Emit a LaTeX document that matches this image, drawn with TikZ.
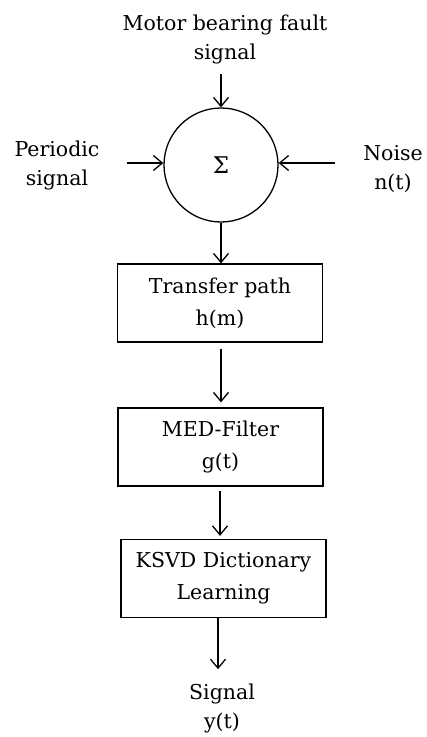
\documentclass[tikz,border=0pt]{standalone}
\usepackage{fontspec}
\setmainfont{DejaVu Serif}
\usetikzlibrary{arrows.meta}
\begin{document}
\begin{tikzpicture}[x=1pt,y=-1pt,
  lbl/.style={align=center,inner sep=0pt,font=\fontsize{20.5}{29}\selectfont},
  blk/.style={draw,line width=1.3pt,minimum width=205pt,minimum height=78pt,align=center,inner sep=0pt,font=\fontsize{20.5}{32}\selectfont},
  conn/.style={line width=1.3pt,-{Straight Barb[length=9pt,width=15pt,line width=1.3pt]}}]
\useasboundingbox (0,0) rectangle (427,737);
\node[lbl] (motor) at (225,39) {Motor bearing fault\\signal};
\node[draw,circle,line width=1.3pt,minimum size=114pt,inner sep=0pt,font=\fontsize{23}{25}\selectfont] (sum) at (221,165) {Σ};
\node[lbl] (per) at (57,165) {Periodic\\signal};
\node[lbl] (noise) at (393,169) {Noise\\n(t)};
\coordinate (mtop) at (221,74);
\coordinate (pin) at (127,163);
\coordinate (nin) at (335,163);
\node[blk] (tp) at (220,303) {Transfer path\\h(m)};
\node[blk] (med) at (220.5,447) {MED-Filter\\g(t)};
\node[blk] (ksvd) at (223.5,578.5) {KSVD Dictionary\\Learning};
\node[lbl] (out) at (222,708) {Signal\\y(t)};
\draw[conn] (mtop) -- (sum.north);
\draw[conn] (pin) -- (pin -| sum.west);
\draw[conn] (nin) -- (nin -| sum.east);
\draw[conn] (sum.south) -- (sum.south |- tp.north);
\draw[conn,shorten <=6pt,shorten >=5pt] (tp.south -| 221,0) -- (med.north -| 221,0);
\draw[conn,shorten <=4pt,shorten >=3pt] (med.south -| 220,0) -- (ksvd.north -| 220,0);
\draw[conn,shorten >=14pt] (ksvd.south -| 218,0) -- (out.north -| 218,0);
\end{tikzpicture}
\end{document}
